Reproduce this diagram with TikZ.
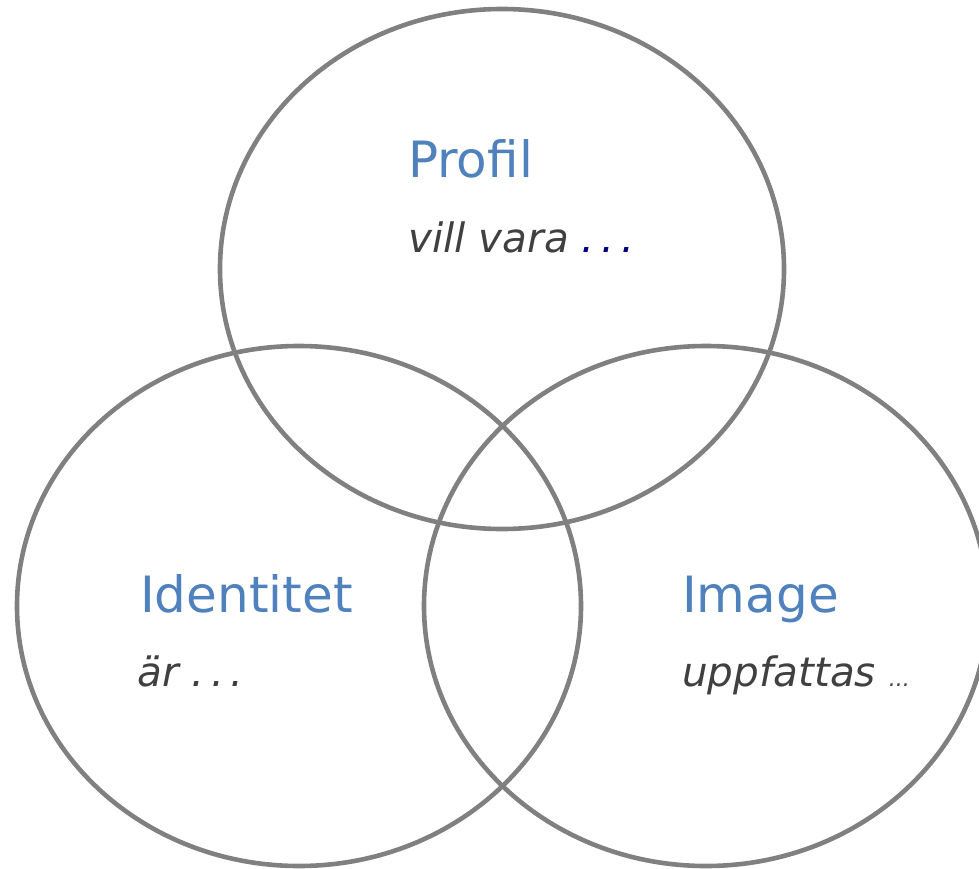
\documentclass[tikz,border=0pt]{standalone}
\usepackage{fontspec}
\setmainfont{DejaVu Sans}
\usetikzlibrary{shapes.geometric}
\definecolor{ringgray}{HTML}{808080}
\definecolor{headblue}{HTML}{4F81BD}
\definecolor{notegray}{HTML}{404040}
\definecolor{dotnavy}{HTML}{000080}
\tikzset{ ring/.style={draw=ringgray, line width=4.6pt, ellipse,
          minimum width=564pt, minimum height=520pt, inner sep=0pt},
        head/.style={anchor=base west, inner sep=0pt, text=headblue,
          font=\fontsize{50}{60}\selectfont},
        note/.style={anchor=base west, inner sep=0pt, text=notegray,
          font=\fontsize{40.5}{48}\selectfont\itshape}}

\begin{document}
\begin{tikzpicture}[x=1pt,y=-1pt]

\useasboundingbox (0,0) rectangle (979,869);
\clip (0,0) rectangle (979,869);
\foreach \cx/\cy/\nm in {502/269/prof, 299/606/ident, 706/606/img} %rings
  \node[ring] (\nm) at (\cx,\cy) {};

\node[head] (profhead) at (408,178) {Profil};
\node[note] (profnote) at (408,252) {vill vara \textcolor{dotnavy}{.\,.\,.}};
\node[head] (identhead) at (140,612) {Identitet};
\node[note] (identnote) at (137,686) {är .\,.\,.};
\node[head] (imghead) at (682,612) {Image};
\node[note] (imgnote) at (682,686) {uppfattas {\fontsize{22}{26}\selectfont ...}};

\end{tikzpicture}
\end{document}
